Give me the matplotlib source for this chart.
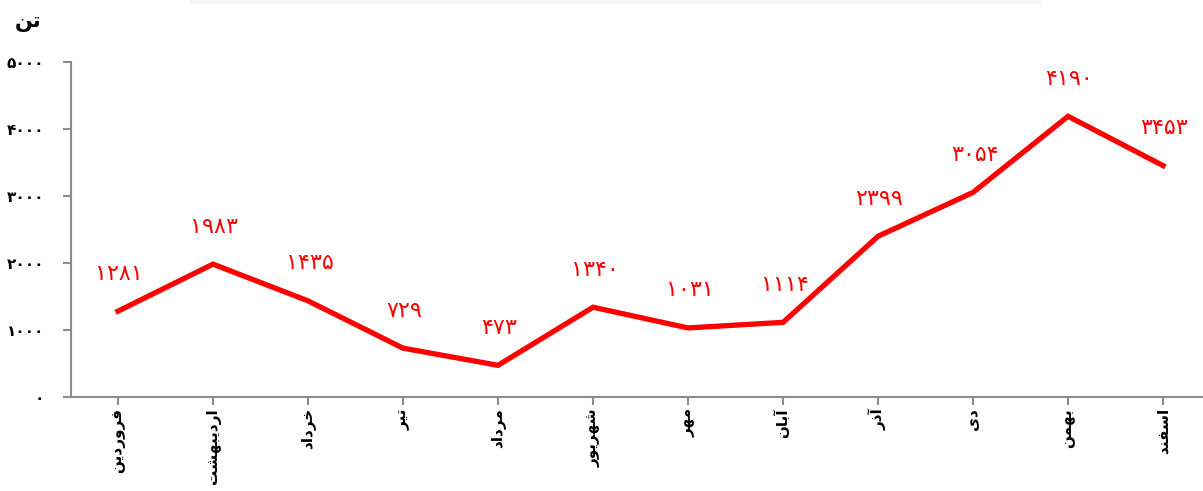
import matplotlib
matplotlib.use("Agg")
import matplotlib.pyplot as plt
from matplotlib.patches import Rectangle

# monthly values (tonnes)
months = ["فروردین", "اردیبهشت", "خرداد", "تیر", "مرداد", "شهریور",
          "مهر", "آبان", "آذر", "دی", "بهمن", "اسفند"]
values = [1281, 1983, 1435, 729, 473, 1340, 1031, 1114, 2399, 3054, 4190, 3453]
yticks = [0, 1000, 2000, 3000, 4000, 5000]
unit_label = "تن"

# tiny arabic shaper: (isolated, final, initial, medial)
FORMS = {
    "ا": ("\uFE8D", "\uFE8E", None, None),
    "آ": ("\uFE81", "\uFE82", None, None),
    "ب": ("\uFE8F", "\uFE90", "\uFE91", "\uFE92"),
    "ت": ("\uFE95", "\uFE96", "\uFE97", "\uFE98"),
    "خ": ("\uFEA5", "\uFEA6", "\uFEA7", "\uFEA8"),
    "د": ("\uFEA9", "\uFEAA", None, None),
    "ذ": ("\uFEAB", "\uFEAC", None, None),
    "ر": ("\uFEAD", "\uFEAE", None, None),
    "س": ("\uFEB1", "\uFEB2", "\uFEB3", "\uFEB4"),
    "ش": ("\uFEB5", "\uFEB6", "\uFEB7", "\uFEB8"),
    "ف": ("\uFED1", "\uFED2", "\uFED3", "\uFED4"),
    "م": ("\uFEE1", "\uFEE2", "\uFEE3", "\uFEE4"),
    "ن": ("\uFEE5", "\uFEE6", "\uFEE7", "\uFEE8"),
    "ه": ("\uFEE9", "\uFEEA", "\uFEEB", "\uFEEC"),
    "و": ("\uFEED", "\uFEEE", None, None),
    "ی": ("\uFBFC", "\uFBFD", "\uFBFE", "\uFBFF"),
}


def shape(word):
    out = []
    for i, c in enumerate(word):
        if c not in FORMS:
            out.append(c)
            continue
        prev = word[i - 1] if i > 0 else None
        nxt = word[i + 1] if i + 1 < len(word) else None
        jp = prev in FORMS and FORMS[prev][2] is not None
        jn = FORMS[c][2] is not None and nxt in FORMS
        iso, fin, ini, med = FORMS[c]
        if jp and jn:
            out.append(med)
        elif jp:
            out.append(fin)
        elif jn:
            out.append(ini)
        else:
            out.append(iso)
    return "".join(out)[::-1]


def fa_num(n):
    return str(n).translate(str.maketrans("0123456789", "۰۱۲۳۴۵۶۷۸۹"))


fig = plt.figure(figsize=(12.03, 4.91), dpi=100)
ax = fig.add_axes([70.5 / 1203, 94 / 491, 1 - 70.5 / 1203, 335 / 491])

x = list(range(len(values)))
ax.plot(x, values, color="#ff0000", lw=3.8, solid_joinstyle="miter", zorder=3)

for xi, v in zip(x, values):
    ax.annotate(fa_num(v), (xi, v), xytext=(1, 27), textcoords="offset points",
                ha="center", va="center", color="#ff0000", fontsize=16,
                family="DejaVu Sans")

ax.set_xlim(-0.5, 11.42)
ax.set_ylim(0, 5000)
ax.set_yticks(yticks)
ax.set_yticklabels([fa_num(t) for t in yticks], fontweight="bold", fontsize=11)
ax.set_xticks(x)
ax.set_xticklabels([shape(m) for m in months], rotation=90, ha="center", va="top",
                   fontweight="bold", fontsize=11)

for s in ["top", "right"]:
    ax.spines[s].set_visible(False)
for s in ["left", "bottom"]:
    ax.spines[s].set_color("#8c8c8c")
    ax.spines[s].set_linewidth(1.5)
ax.tick_params(axis="both", direction="out", length=6, width=1.5, color="#8c8c8c")
ax.tick_params(axis="y", pad=13)
ax.tick_params(axis="x", pad=2)

fig.text(28 / 1203, 1 - 22 / 491, shape(unit_label), ha="center", va="center",
         fontsize=15, fontweight="bold")

# faint shadow strip at top edge
fig.patches.append(Rectangle((190 / 1203, 1 - 3 / 491), 850 / 1203, 3 / 491,
                             transform=fig.transFigure, color="#f5f5f5", zorder=0))

fig.savefig("out.png", dpi=100)
